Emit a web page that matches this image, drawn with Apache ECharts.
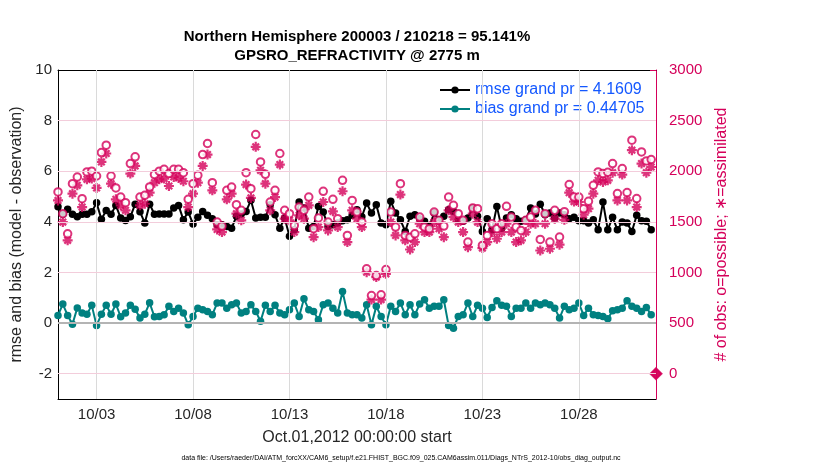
<!DOCTYPE html>
<html><head><meta charset="utf-8">
<script src="https://cdn.jsdelivr.net/npm/echarts@6/dist/echarts.min.js"></script>
<style>html,body{margin:0;padding:0;background:#fff}#c{width:830px;height:470px}</style>
</head><body><div id="c"></div>
<script>
const titleLine1 = 'Northern Hemisphere 200003 / 210218 = 95.141%';
const titleLine2 = 'GPSRO_REFRACTIVITY @ 2775 m';
const xName = 'Oct.01,2012 00:00:00 start';
const leftName = 'rmse and bias (model - observation)';
const rightName = '# of obs: o=possible; \u2217=assimilated';
const footText = 'data file: /Users/raeder/DAI/ATM_forcXX/CAM6_setup/f.e21.FHIST_BGC.f09_025.CAM6assim.011/Diags_NTrS_2012-10/obs_diag_output.nc';
const rmseName = 'rmse grand pr = 4.1609';
const biasName = 'bias grand pr = 0.44705';

const binDays = 0.25; // 6-hourly bins starting Oct 01 00:00
const rmse = [
 4.60,4.30,4.50,4.30,4.20,4.30,4.30,4.40,4.75,4.10,4.45,4.30,4.65,4.15,4.05,4.20,4.70,4.40,3.95,4.70,4.30,
 4.31,4.31,4.31,4.55,4.65,4.08,4.39,3.91,4.18,4.41,4.26,4.12,3.89,3.89,3.82,3.75,4.22,4.31,4.41,4.85,4.15,
 4.18,4.18,4.68,4.28,3.75,4.15,3.43,3.69,4.78,4.55,3.75,3.82,4.61,4.39,3.82,3.89,3.95,4.04,4.08,4.26,
 4.48,4.20,4.74,4.35,4.68,3.95,3.89,4.81,4.35,4.08,3.62,4.22,4.28,4.12,4.02,3.82,4.35,4.08,4.22,4.48,4.41,
 4.08,4.02,4.15,4.55,4.22,3.62,4.12,3.69,4.61,3.75,4.15,4.28,4.12,4.02,4.08,4.55,4.31,4.70,4.28,4.35,4.15,
 4.35,4.28,4.12,4.18,4.04,4.04,3.95,4.08,3.69,4.78,3.69,4.18,3.69,3.99,3.95,3.62,4.26,4.04,4.02,3.69
];
const bias = [
 0.30,0.75,0.30,-0.05,0.60,0.40,0.35,0.70,-0.10,0.35,0.70,0.35,0.75,0.25,0.40,0.70,0.55,0.20,0.35,0.80,0.25,
 0.26,0.33,0.66,0.46,0.59,0.40,-0.07,0.26,0.59,0.53,0.46,0.33,0.79,0.79,0.59,0.72,0.79,0.40,0.46,0.72,0.46,
 0.07,0.70,0.46,0.70,0.40,0.33,0.53,0.79,0.26,0.96,0.53,0.46,0.13,0.72,0.79,0.59,0.40,1.25,0.40,0.33,
 0.33,0.20,0.72,-0.07,0.66,0.26,-0.07,0.66,0.46,0.79,0.33,0.72,0.33,0.75,0.92,0.59,0.66,0.66,0.92,-0.10,-0.20,
 0.26,0.33,0.79,0.26,0.70,0.59,0.22,0.62,0.88,0.70,0.66,0.26,0.59,0.59,0.79,0.59,0.79,0.72,0.79,0.72,0.59,
 0.20,0.66,0.53,0.59,0.79,0.30,0.59,0.33,0.30,0.26,0.17,0.49,0.53,0.59,0.88,0.66,0.59,0.46,0.62,0.33
];
const possible = [
 1795,1580,1382,1877,1943,1729,1993,2000,1953,2184,2257,1953,1835,1745,1689,2076,2142,1745,1762,1845,1967,
 2000,2019,1977,2019,2019,1986,1722,1877,1960,2165,2274,1887,1498,1458,1811,1844,1670,1614,1986,1828,2363,
 2092,1970,1696,1811,2175,1614,1581,1465,1646,1614,1745,1432,1538,1802,1498,1722,1531,1910,1366,1712,
 1597,1498,1036,772,970,779,1029,1597,1448,1877,1366,1349,1382,1547,1448,1432,1597,1515,1458,1745,1663,
 1581,1515,1300,1637,1630,1267,1366,1481,1432,1481,1653,1547,1448,1415,1515,1547,1614,1326,1581,1300,1614,
 1350,1600,1868,1745,1745,1630,1703,1861,1993,1977,1990,2076,1779,2026,1789,2307,1730,2191,2102,2115,
 0
];
const assimilated = [
 1712,1498,1317,1778,1861,1646,1920,1927,1835,2092,2175,1877,1722,1663,1614,1977,2052,1663,1679,1788,1887,
 1920,1927,1854,1944,1934,1901,1646,1778,1887,2052,2165,1811,1425,1399,1722,1778,1581,1515,1868,1736,2241,
 2009,1877,1614,1745,2066,1531,1515,1399,1564,1531,1663,1349,1448,1696,1415,1604,1448,1802,1300,1614,
 1531,1448,1003,732,954,732,987,1498,1366,1769,1317,1227,1300,1481,1399,1399,1498,1432,1349,1614,1547,
 1498,1399,1250,1581,1498,1241,1300,1399,1333,1399,1481,1399,1300,1317,1399,1481,1481,1217,1481,1234,1531,
 1274,1520,1788,1700,1696,1571,1630,1778,1910,1894,1910,1986,1712,1967,1712,2208,1646,2076,1986,2042,
 0
];
const xTickDays = [2, 7, 12, 17, 22, 27];
const xTickLabels = ['10/03', '10/08', '10/13', '10/18', '10/23', '10/28'];
const leftTicks = [-2, 0, 2, 4, 6, 8, 10];
const rightTicks = [0, 500, 1000, 1500, 2000, 2500, 3000];

const FONT = '"Liberation Sans", Arial, Helvetica, sans-serif';
const CRIM = '#d5005a';
const TEAL = '#008080';
const DARK = '#262626';
const STAR = 'path://M3.9 0L6.1 0L6.1 10L3.9 10Z M0 3.9L10 3.9L10 6.1L0 6.1Z M0.9 2.5L2.5 0.9L9.1 7.5L7.5 9.1Z M7.5 0.9L9.1 2.5L2.5 9.1L0.9 7.5Z';

const series2d = (arr) => arr.map((v, i) => [i * binDays, v]);
const countData = (arr) => arr.map((v, i) => v === 0
  ? { value: [i * binDays, v], symbol: 'diamond', symbolSize: 11, itemStyle: { color: CRIM, borderColor: CRIM } }
  : [i * binDays, v]);

const chart = echarts.init(document.getElementById('c'), null, { renderer: 'canvas' });
const option = {
  animation: false,
  backgroundColor: '#fff',
  textStyle: { fontFamily: FONT },
  grid: { left: 58, right: 174, top: 70, bottom: 71, containLabel: false },
  graphic: [
    { type: 'text', x: 357, y: 37, style: { text: titleLine1, font: 'bold 15px ' + FONT, fill: '#000', textAlign: 'center', textVerticalAlign: 'middle' } },
    { type: 'text', x: 357, y: 56, style: { text: titleLine2, font: 'bold 15px ' + FONT, fill: '#000', textAlign: 'center', textVerticalAlign: 'middle' } },
    { type: 'text', x: 401, y: 458, style: { text: footText, font: '7px ' + FONT, fill: '#000', textAlign: 'center', textVerticalAlign: 'middle' } }
  ],
  legend: {
    orient: 'vertical', left: 439, top: 81, padding: 0, align: 'left',
    itemWidth: 30, itemHeight: 9, itemGap: 1,
    textStyle: { color: '#1458ff', fontSize: 16, fontFamily: FONT, lineHeight: 18 },
    data: [rmseName, biasName]
  },
  xAxis: [
    {
      type: 'value', min: 0, max: 31, position: 'bottom',
      axisLine: { show: true, onZero: false, lineStyle: { color: '#000', width: 1 } },
      axisTick: { show: true, inside: true, length: 6, customValues: xTickDays, lineStyle: { color: '#000' } },
      axisLabel: { customValues: xTickDays, color: DARK, fontSize: 15, fontFamily: FONT, margin: 8,
        formatter: (v) => { const k = xTickDays.indexOf(v); return k >= 0 ? xTickLabels[k] : ''; } },
      splitLine: { show: false },
      name: xName, nameLocation: 'middle', nameGap: 31,
      nameTextStyle: { color: DARK, fontSize: 16, fontFamily: FONT }
    },
    {
      type: 'value', min: 0, max: 31, position: 'top',
      axisLine: { show: true, onZero: false, lineStyle: { color: '#000', width: 1 } },
      axisTick: { show: true, inside: true, length: 6, customValues: xTickDays, lineStyle: { color: '#000' } },
      axisLabel: { show: false },
      splitLine: { show: false }
    }
  ],
  yAxis: [
    {
      type: 'value', min: -3, max: 10, position: 'left',
      axisLine: { show: true, onZero: false, lineStyle: { color: '#000', width: 1 } },
      axisTick: { show: true, inside: true, length: 6, customValues: leftTicks, lineStyle: { color: '#000' } },
      axisLabel: { customValues: leftTicks, color: DARK, fontSize: 15, fontFamily: FONT, margin: 6 },
      splitLine: { show: false },
      name: leftName, nameLocation: 'middle', nameGap: 31, nameRotate: 90,
      nameTextStyle: { color: DARK, fontSize: 16, fontFamily: FONT }
    },
    {
      type: 'value', min: -250, max: 3000, position: 'right',
      axisLine: { show: true, onZero: false, lineStyle: { color: CRIM, width: 1 } },
      axisTick: { show: true, inside: true, length: 6, customValues: rightTicks, lineStyle: { color: CRIM } },
      axisLabel: { customValues: rightTicks, color: CRIM, fontSize: 15, fontFamily: FONT, margin: 13,
        formatter: (v) => String(v) },
      splitLine: { show: false },
      name: rightName, nameLocation: 'middle', nameGap: 40, nameRotate: 90,
      nameTextStyle: { color: CRIM, fontSize: 16, fontFamily: FONT }
    }
  ],
  series: [
    {
      name: 'xgrid', type: 'line', xAxisIndex: 0, yAxisIndex: 1, z: 0,
      data: xTickDays.map(d => [d, 0]), showSymbol: false, silent: true,
      lineStyle: { opacity: 0 },
      markLine: { silent: true, symbol: 'none', label: { show: false },
        lineStyle: { color: '#dadada', width: 1, type: 'solid' },
        data: xTickDays.map(d => ({ xAxis: d })) }
    },
    {
      name: 'ygrid', type: 'line', xAxisIndex: 0, yAxisIndex: 1, z: 0,
      data: rightTicks.map(v => [0, v]), showSymbol: false, silent: true,
      lineStyle: { opacity: 0 },
      markLine: { silent: true, symbol: 'none', label: { show: false },
        lineStyle: { color: '#f3cddb', width: 1, type: 'solid' },
        data: rightTicks.filter(v => v < 3000).map(v => ({ yAxis: v })) }
    },
    {
      name: 'zero', type: 'line', xAxisIndex: 0, yAxisIndex: 0, z: 1,
      data: [[0, 0]], showSymbol: false, silent: true, lineStyle: { opacity: 0 },
      markLine: { silent: true, symbol: 'none', label: { show: false },
        lineStyle: { color: '#b4b4b4', width: 2, type: 'solid' },
        data: [{ yAxis: 0 }] }
    },
    {
      name: rmseName, type: 'line', xAxisIndex: 0, yAxisIndex: 0, z: 2,
      data: series2d(rmse), symbol: 'circle', symbolSize: 7.5,
      itemStyle: { color: '#000' }, lineStyle: { color: '#000', width: 2 }
    },
    {
      name: biasName, type: 'line', xAxisIndex: 0, yAxisIndex: 0, z: 2,
      data: series2d(bias), symbol: 'circle', symbolSize: 7.5,
      itemStyle: { color: TEAL }, lineStyle: { color: TEAL, width: 2 }
    },
    {
      name: 'assimilated', type: 'scatter', xAxisIndex: 0, yAxisIndex: 1, z: 3,
      data: countData(assimilated), symbol: STAR, symbolSize: 10,
      itemStyle: { color: CRIM }
    },
    {
      name: 'possible', type: 'scatter', xAxisIndex: 0, yAxisIndex: 1, z: 4,
      data: countData(possible), symbol: 'emptyCircle', symbolSize: 7.5,
      itemStyle: { color: CRIM, borderColor: CRIM, borderWidth: 2 }
    }
  ]
};
chart.setOption(option);
</script>
</body></html>
